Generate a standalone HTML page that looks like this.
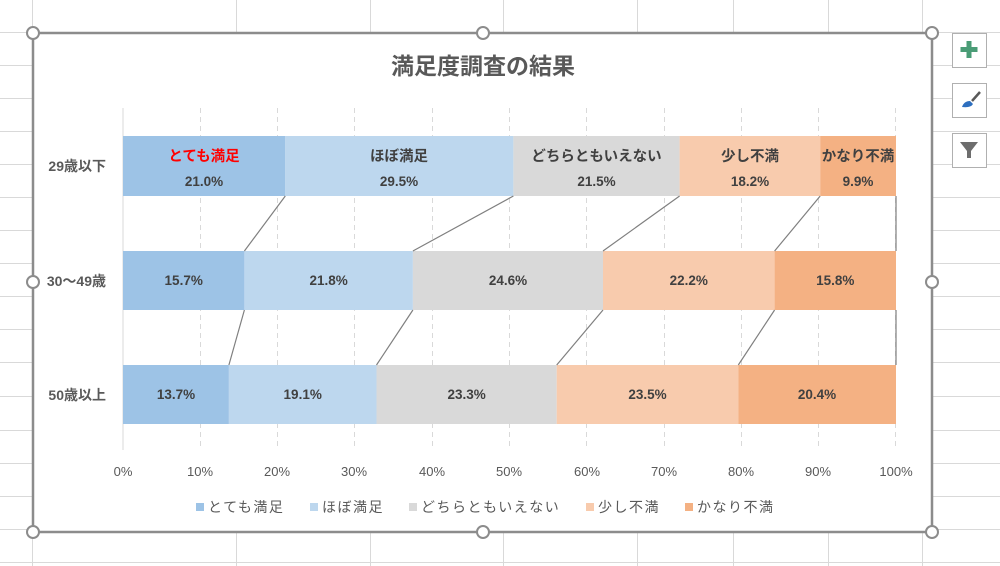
<!DOCTYPE html>
<html><head><meta charset="utf-8">
<style>
html,body{margin:0;padding:0;background:#fff;}
svg{display:block;font-family:"Liberation Sans","Noto Sans CJK JP",sans-serif;}
</style></head>
<body>
<svg width="1000" height="566" viewBox="0 0 1000 566" xmlns="http://www.w3.org/2000/svg">
<g stroke="#d9d9d9" stroke-width="1">
<line x1="32.5" y1="0" x2="32.5" y2="566"/>
<line x1="236.5" y1="0" x2="236.5" y2="566"/>
<line x1="370.5" y1="0" x2="370.5" y2="566"/>
<line x1="503.5" y1="0" x2="503.5" y2="566"/>
<line x1="637.5" y1="0" x2="637.5" y2="566"/>
<line x1="733.5" y1="0" x2="733.5" y2="566"/>
<line x1="828.5" y1="0" x2="828.5" y2="566"/>
<line x1="922.5" y1="0" x2="922.5" y2="566"/>
<line x1="0" y1="32.5" x2="1000" y2="32.5"/>
<line x1="0" y1="65.5" x2="1000" y2="65.5"/>
<line x1="0" y1="98.5" x2="1000" y2="98.5"/>
<line x1="0" y1="131.5" x2="1000" y2="131.5"/>
<line x1="0" y1="164.5" x2="1000" y2="164.5"/>
<line x1="0" y1="197.5" x2="1000" y2="197.5"/>
<line x1="0" y1="230.5" x2="1000" y2="230.5"/>
<line x1="0" y1="263.5" x2="1000" y2="263.5"/>
<line x1="0" y1="296.5" x2="1000" y2="296.5"/>
<line x1="0" y1="329.5" x2="1000" y2="329.5"/>
<line x1="0" y1="362.5" x2="1000" y2="362.5"/>
<line x1="0" y1="396.5" x2="1000" y2="396.5"/>
<line x1="0" y1="430.5" x2="1000" y2="430.5"/>
<line x1="0" y1="463.5" x2="1000" y2="463.5"/>
<line x1="0" y1="496.5" x2="1000" y2="496.5"/>
<line x1="0" y1="529.5" x2="1000" y2="529.5"/>
<line x1="0" y1="562.5" x2="1000" y2="562.5"/>
</g>
<rect x="33" y="33" width="899" height="499" fill="#fff" stroke="#8c8c8c" stroke-width="2.5"/>
<text x="483" y="74" text-anchor="middle" font-size="23" font-weight="bold" fill="#595959">満足度調査の結果</text>
<g stroke="#d9d9d9" stroke-width="1" stroke-dasharray="5,4">
<line x1="200.5" y1="108" x2="200.5" y2="450"/>
<line x1="277.5" y1="108" x2="277.5" y2="450"/>
<line x1="354.5" y1="108" x2="354.5" y2="450"/>
<line x1="432.5" y1="108" x2="432.5" y2="450"/>
<line x1="509.5" y1="108" x2="509.5" y2="450"/>
<line x1="586.5" y1="108" x2="586.5" y2="450"/>
<line x1="664.5" y1="108" x2="664.5" y2="450"/>
<line x1="741.5" y1="108" x2="741.5" y2="450"/>
<line x1="818.5" y1="108" x2="818.5" y2="450"/>
<line x1="895.5" y1="108" x2="895.5" y2="450"/>
</g>
<line x1="123" y1="108" x2="123" y2="450" stroke="#d9d9d9"/>
<rect x="123" y="136" width="162.3" height="60" fill="#9dc3e6"/>
<rect x="285.3" y="136" width="228.1" height="60" fill="#bdd7ee"/>
<rect x="513.4" y="136" width="166.2" height="60" fill="#d9d9d9"/>
<rect x="679.6" y="136" width="140.6" height="60" fill="#f8cbad"/>
<rect x="820.2" y="136" width="75.8" height="60" fill="#f4b183"/>
<rect x="123" y="251" width="121.4" height="59" fill="#9dc3e6"/>
<rect x="244.4" y="251" width="168.5" height="59" fill="#bdd7ee"/>
<rect x="412.9" y="251" width="190.1" height="59" fill="#d9d9d9"/>
<rect x="603" y="251" width="171.6" height="59" fill="#f8cbad"/>
<rect x="774.6" y="251" width="121.4" height="59" fill="#f4b183"/>
<rect x="123" y="365" width="105.9" height="59" fill="#9dc3e6"/>
<rect x="228.9" y="365" width="147.6" height="59" fill="#bdd7ee"/>
<rect x="376.5" y="365" width="180.2" height="59" fill="#d9d9d9"/>
<rect x="556.7" y="365" width="181.6" height="59" fill="#f8cbad"/>
<rect x="738.3" y="365" width="157.7" height="59" fill="#f4b183"/>
<g stroke="#7f7f7f" stroke-width="1.2">
<line x1="285.3" y1="196" x2="244.4" y2="251"/>
<line x1="513.4" y1="196" x2="412.9" y2="251"/>
<line x1="679.6" y1="196" x2="603" y2="251"/>
<line x1="820.2" y1="196" x2="774.6" y2="251"/>
<line x1="896" y1="196" x2="896" y2="251"/>
<line x1="244.4" y1="310" x2="228.9" y2="365"/>
<line x1="412.9" y1="310" x2="376.5" y2="365"/>
<line x1="603" y1="310" x2="556.7" y2="365"/>
<line x1="774.6" y1="310" x2="738.3" y2="365"/>
<line x1="896" y1="310" x2="896" y2="365"/>
</g>
<g font-size="13.5" font-weight="bold" fill="#404040" text-anchor="middle">
<text x="204" y="161" fill="#ff0000" font-size="14.5">とても満足</text>
<text x="399" y="161" font-size="14.5">ほぼ満足</text>
<text x="596.5" y="161" font-size="14.5">どちらともいえない</text>
<text x="750" y="161" font-size="14.5">少し不満</text>
<text x="858" y="161" font-size="14.5">かなり不満</text>
<text x="204" y="186">21.0%</text>
<text x="399" y="186">29.5%</text>
<text x="596.5" y="186">21.5%</text>
<text x="750" y="186">18.2%</text>
<text x="858" y="186">9.9%</text>
<text x="183.7" y="285">15.7%</text>
<text x="328.6" y="285">21.8%</text>
<text x="508" y="285">24.6%</text>
<text x="688.8" y="285">22.2%</text>
<text x="835.3" y="285">15.8%</text>
<text x="176" y="399">13.7%</text>
<text x="302.7" y="399">19.1%</text>
<text x="466.6" y="399">23.3%</text>
<text x="647.5" y="399">23.5%</text>
<text x="817" y="399">20.4%</text>
</g>
<g font-size="14" font-weight="bold" fill="#595959" text-anchor="end">
<text x="106" y="171">29歳以下</text>
<text x="106" y="286">30〜49歳</text>
<text x="106" y="400">50歳以上</text>
</g>
<g font-size="13" fill="#595959" text-anchor="middle">
<text x="123" y="476">0%</text>
<text x="200" y="476">10%</text>
<text x="277" y="476">20%</text>
<text x="354" y="476">30%</text>
<text x="432" y="476">40%</text>
<text x="509" y="476">50%</text>
<text x="587" y="476">60%</text>
<text x="664" y="476">70%</text>
<text x="741" y="476">80%</text>
<text x="818" y="476">90%</text>
<text x="896" y="476">100%</text>
</g>
<g font-size="14" fill="#595959" letter-spacing="1.5">
<rect x="196" y="503" width="8" height="8" fill="#9dc3e6"/><text x="208" y="512">とても満足</text>
<rect x="310" y="503" width="8" height="8" fill="#bdd7ee"/><text x="322" y="512">ほぼ満足</text>
<rect x="409" y="503" width="8" height="8" fill="#d9d9d9"/><text x="421" y="512">どちらともいえない</text>
<rect x="586" y="503" width="8" height="8" fill="#f8cbad"/><text x="598" y="512">少し不満</text>
<rect x="685" y="503" width="8" height="8" fill="#f4b183"/><text x="697" y="512">かなり不満</text>
</g>
<g fill="#fff" stroke="#8c8c8c" stroke-width="2">
<circle cx="33" cy="33" r="6"/><circle cx="483" cy="33" r="6"/><circle cx="932" cy="33" r="6"/>
<circle cx="33" cy="282" r="6"/><circle cx="932" cy="282" r="6"/>
<circle cx="33" cy="532" r="6"/><circle cx="483" cy="532" r="6"/><circle cx="932" cy="532" r="6"/>
</g>
<g fill="#fff" stroke="#b0b0b0" stroke-width="1">
<rect x="952.5" y="33.5" width="34" height="34"/>
<rect x="952.5" y="83.5" width="34" height="34"/>
<rect x="952.5" y="133.5" width="34" height="34"/>
</g>
<path d="M966.5 41h5v6h6v5h-6v6h-5v-6h-6v-5h6z" fill="#4a9c76"/>
<path d="M962 107 q2 -6 8 -6 l3 3 q-2 4 -11 3z" fill="#2e6fbf"/>
<line x1="972" y1="101" x2="980" y2="92" stroke="#595959" stroke-width="2.5"/>
<path d="M960 142h18l-7 9v7h-4v-7z" fill="#6d6d6d"/>
</svg>
</body></html>
